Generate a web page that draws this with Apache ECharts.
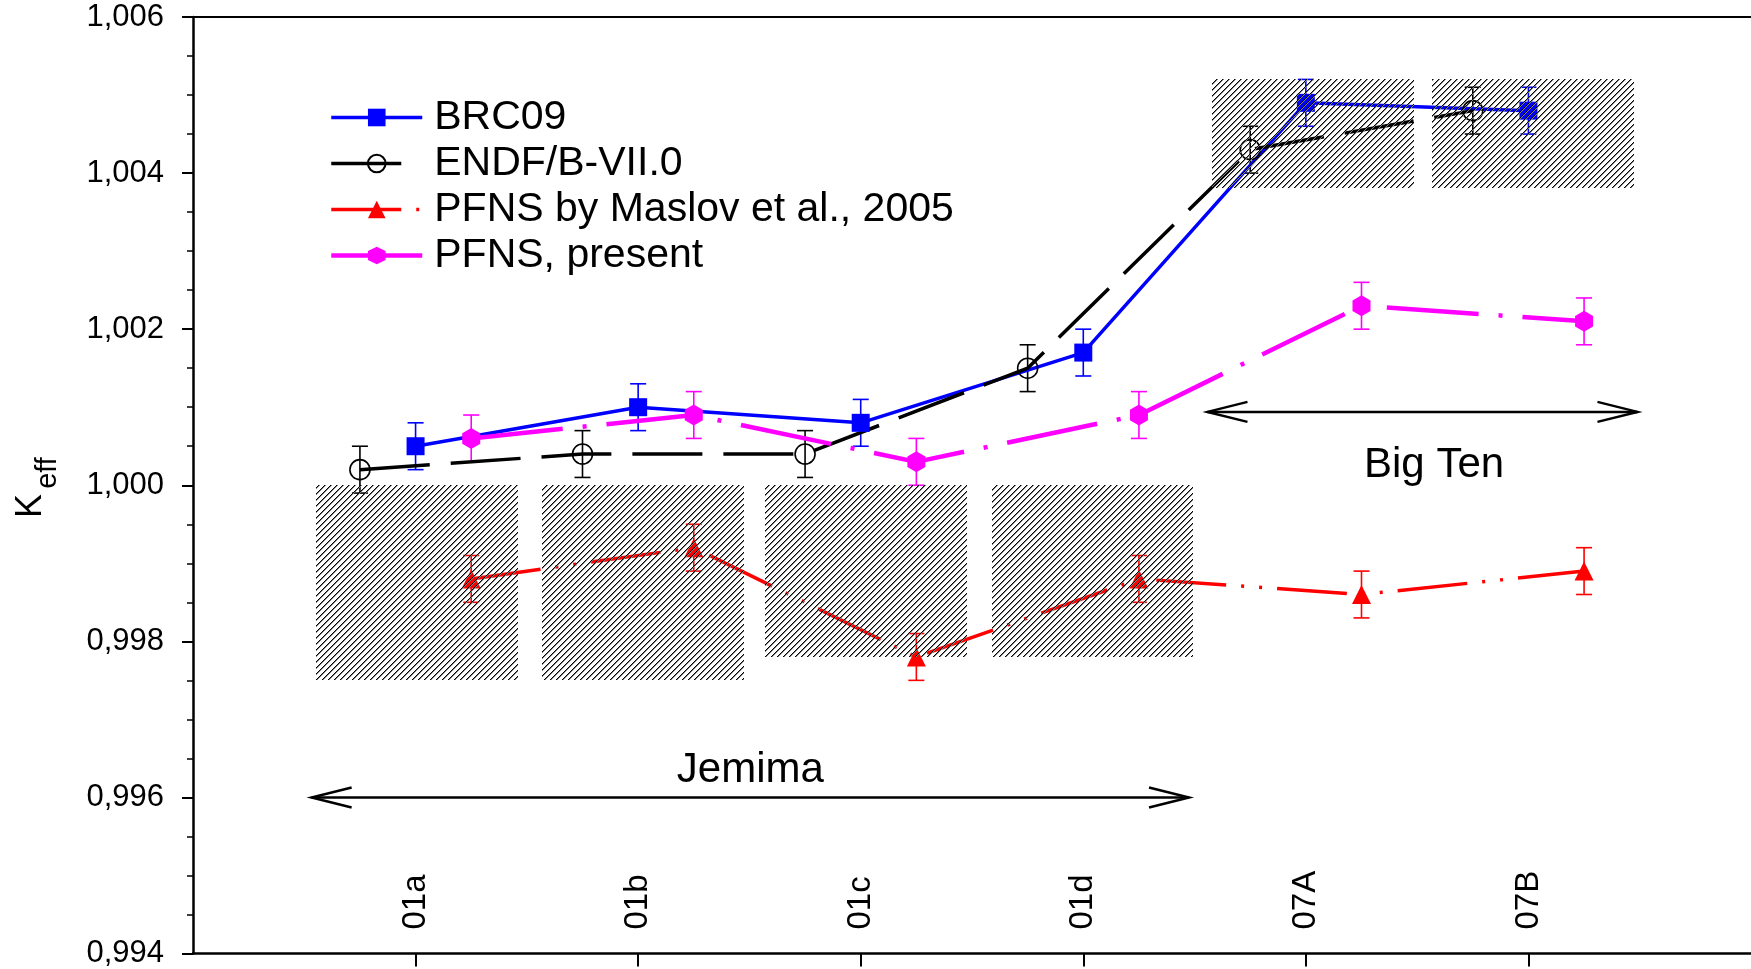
<!DOCTYPE html>
<html>
<head>
<meta charset="utf-8">
<script src="https://cdn.jsdelivr.net/npm/echarts@6/dist/echarts.min.js"></script>
<style>
  html, body { margin: 0; padding: 0; background: #fff; }
  #chart { width: 1751px; height: 969px; }
</style>
</head>
<body>
<div id="chart"></div>
<script>
// Benchmark configurations (Jemima and Big Ten assemblies)
const categories = ['01a', '01b', '01c', '01d', '07A', '07B'];

// k_eff results per evaluation
const brc09   = [1.0005, 1.0010, 1.0008, 1.0017, 1.0049, 1.0048];
const endf    = [1.0002, 1.0004, 1.0004, 1.0015, 1.0043, 1.0048];
const maslov  = [0.9988, 0.9992, 0.9978, 0.9988, 0.9986, 0.9989];
const present = [1.0006, 1.0009, 1.0003, 1.0009, 1.0023, 1.0021];

// statistical uncertainties
const brc09Err   = [0.0003, 0.0003, 0.0003, 0.0003, 0.0003, 0.0003];
const endfErr    = [0.0003, 0.0003, 0.0003, 0.0003, 0.0003, 0.0003];
const maslovErr  = [0.0003, 0.0003, 0.0003, 0.0003, 0.0003, 0.0003];
const presentErr = [0.0003, 0.0003, 0.0003, 0.0003, 0.0003, 0.0003];

// horizontal shift of each evaluation around its benchmark
const shiftBrc09 = 0, shiftEndf = -0.25, shiftMaslov = 0.25, shiftPresent = 0.25;

// experimental uncertainty bands (hatched)
const bandX0 = [0.553, 1.567, 2.570, 3.588, 4.579, 5.567];
const bandX1 = [1.459, 2.473, 3.479, 4.493, 5.486, 6.474];
const bandY0 = [0.9975, 0.9975, 0.9978, 0.9978, 1.0038, 1.0038];
const bandY1 = [1.0000, 1.0000, 1.0000, 1.0000, 1.0052, 1.0052];

// group arrows and their captions
const arrowX0 = [0.533, 4.558];
const arrowX1 = [4.475, 6.49];
const arrowY  = [0.996, 1.00094];
const groupNames = ['Jemima', 'Big Ten'];
const groupNameX = [2.504, 5.576];
const groupNameY = [0.99635, 1.00025];

const yTicks = [0.994, 0.996, 0.998, 1.000, 1.002, 1.004, 1.006];

const FONT = '"Liberation Sans", Arial, Helvetica, sans-serif';
const HEXAGON = 'path://M0,-10 L8.66,-5 L8.66,5 L0,10 L-8.66,5 L-8.66,-5 Z';

// 45° hatching tile: one dark pixel plus a softer neighbour per row
function hatchCanvas() {
  const n = 6;
  const c = document.createElement('canvas');
  c.width = n; c.height = n;
  const ctx = c.getContext('2d');
  for (let i = 0; i < n; i++) {
    ctx.fillStyle = '#000';
    ctx.fillRect(i, n - 1 - i, 1, 1);
    ctx.fillStyle = '#808080';
    ctx.fillRect((i + 1) % n, n - 1 - i, 1, 1);
  }
  return c;
}

function points(values, shift) {
  return values.map((v, i) => [i + 1 + shift, v]);
}

function lineSeries(name, values, shift, color, width, dash, symbol, size, itemStyle) {
  return {
    name: name,
    type: 'line',
    data: points(values, shift),
    symbol: symbol,
    symbolSize: size,
    showAllSymbol: true,
    lineStyle: { color: color, width: width, type: dash },
    itemStyle: itemStyle || { color: color },
    emphasis: { disabled: true },
    z: 3
  };
}

function errorSeries(values, errs, shift, color) {
  return {
    type: 'custom',
    silent: true,
    z: 2,
    data: values.map((v, i) => [i + 1 + shift, v, errs[i]]),
    renderItem: function (params, api) {
      const x = api.value(0), y = api.value(1), e = api.value(2);
      const hi = api.coord([x, y + e]);
      const lo = api.coord([x, y - e]);
      const w = 8;
      const st = { stroke: color, lineWidth: 1.6 };
      return {
        type: 'group',
        children: [
          { type: 'line', shape: { x1: hi[0], y1: hi[1], x2: lo[0], y2: lo[1] }, style: st },
          { type: 'line', shape: { x1: hi[0] - w, y1: hi[1], x2: hi[0] + w, y2: hi[1] }, style: st },
          { type: 'line', shape: { x1: lo[0] - w, y1: lo[1], x2: lo[0] + w, y2: lo[1] }, style: st }
        ]
      };
    }
  };
}

const hatch = { image: hatchCanvas(), repeat: 'repeat' };

const bandSeries = {
  type: 'custom',
  silent: true,
  z: 5,
  data: bandX0.map((x0, i) => [x0, bandX1[i], bandY0[i], bandY1[i]]),
  renderItem: function (params, api) {
    const a = api.coord([api.value(0), api.value(3)]);
    const b = api.coord([api.value(1), api.value(2)]);
    return {
      type: 'rect',
      shape: { x: Math.round(a[0]), y: Math.round(a[1]), width: Math.round(b[0] - a[0]), height: Math.round(b[1] - a[1]) },
      style: { fill: hatch }
    };
  }
};

const arrowSeries = {
  type: 'custom',
  silent: true,
  z: 6,
  data: arrowX0.map((x0, i) => [x0, arrowX1[i], arrowY[i]]),
  renderItem: function (params, api) {
    const l = api.coord([api.value(0), api.value(2)]);
    const r = api.coord([api.value(1), api.value(2)]);
    const hl = 40, hw = 10;
    const st = { stroke: '#000', lineWidth: 2.5, fill: 'none' };
    return {
      type: 'group',
      children: [
        { type: 'line', shape: { x1: l[0], y1: l[1], x2: r[0], y2: r[1] }, style: st },
        { type: 'polyline', shape: { points: [[l[0] + hl, l[1] - hw], [l[0], l[1]], [l[0] + hl, l[1] + hw]] }, style: st },
        { type: 'polyline', shape: { points: [[r[0] - hl, r[1] - hw], [r[0], r[1]], [r[0] - hl, r[1] + hw]] }, style: st }
      ]
    };
  }
};

const captionSeries = {
  type: 'custom',
  silent: true,
  z: 6,
  data: groupNameX.map((x, i) => [x, groupNameY[i]]),
  renderItem: function (params, api) {
    const p = api.coord([api.value(0), api.value(1)]);
    return {
      type: 'text',
      x: p[0], y: p[1],
      style: {
        text: groupNames[params.dataIndex],
        font: '42px ' + FONT,
        fill: '#000',
        align: 'center',
        verticalAlign: 'middle'
      }
    };
  }
};

const chart = echarts.init(document.getElementById('chart'), null, { renderer: 'canvas' });

chart.setOption({
  animation: false,
  backgroundColor: '#fff',
  grid: { left: 193, top: 17, bottom: 15, right: -10, containLabel: false },
  legend: {
    orient: 'vertical',
    left: 329,
    top: 97,
    padding: 0,
    itemWidth: 91,
    itemHeight: 22,
    itemGap: 5,
    selectedMode: false,
    lineStyle: { width: 'inherit' },
    textStyle: { fontSize: 41, color: '#000', fontFamily: FONT, padding: [0, 0, 0, 7] },
    data: ['BRC09', 'ENDF/B-VII.0', 'PFNS by Maslov et al., 2005', 'PFNS, present']
  },
  xAxis: [
    {
      type: 'value',
      position: 'bottom',
      min: 0, max: 7, interval: 1,
      axisLine: { show: true, onZero: false, lineStyle: { color: '#000', width: 2.5 } },
      axisTick: { show: true, length: 13, inside: false, customValues: [1, 2, 3, 4, 5, 6], lineStyle: { color: '#000', width: 2 } },
      axisLabel: {
        inside: true, rotate: 90, margin: 24,
        customValues: [1, 2, 3, 4, 5, 6],
        fontSize: 33, color: '#000', fontFamily: FONT,
        formatter: v => categories[Math.round(v) - 1] || ''
      },
      splitLine: { show: false }
    },
    {
      type: 'value',
      position: 'top',
      min: 0, max: 7, interval: 1,
      axisLine: { show: true, onZero: false, lineStyle: { color: '#000', width: 2 } },
      axisTick: { show: false },
      axisLabel: { show: false },
      splitLine: { show: false }
    }
  ],
  yAxis: {
    type: 'value',
    min: yTicks[0], max: yTicks[yTicks.length - 1], interval: 0.002,
    axisLine: { show: true, onZero: false, lineStyle: { color: '#000', width: 2.5 } },
    axisTick: { show: true, length: 11, lineStyle: { color: '#000', width: 2 } },
    minorTick: { show: true, splitNumber: 4, length: 6, lineStyle: { color: '#000', width: 1.5 } },
    axisLabel: {
      margin: 29, fontSize: 31, color: '#000', fontFamily: FONT,
      formatter: v => v.toFixed(3).replace('.', ',')
    },
    splitLine: { show: false },
    minorSplitLine: { show: false }
  },
  graphic: [
    {
      type: 'text', x: 31, y: 506, rotation: Math.PI / 2,
      style: { text: 'K', font: '36px ' + FONT, fill: '#000', align: 'center', verticalAlign: 'middle' }
    },
    {
      type: 'text', x: 48, y: 473, rotation: Math.PI / 2,
      style: { text: 'eff', font: '29px ' + FONT, fill: '#000', align: 'center', verticalAlign: 'middle' }
    }
  ],
  series: [
    errorSeries(brc09, brc09Err, shiftBrc09, '#0000ff'),
    errorSeries(endf, endfErr, shiftEndf, '#000000'),
    errorSeries(maslov, maslovErr, shiftMaslov, '#ff0000'),
    errorSeries(present, presentErr, shiftPresent, '#ff00ff'),
    lineSeries('BRC09', brc09, shiftBrc09, '#0000ff', 3.5, 'solid', 'rect', 18),
    lineSeries('ENDF/B-VII.0', endf, shiftEndf, '#000000', 3.5, [70, 21], 'circle', 20,
      { color: 'rgba(255,255,255,0)', borderColor: '#000', borderWidth: 1.6 }),
    lineSeries('PFNS by Maslov et al., 2005', maslov, shiftMaslov, '#ff0000', 3.5, [70, 15, 3, 15, 3, 15], 'triangle', 19),
    lineSeries('PFNS, present', present, shiftPresent, '#ff00ff', 4.5, [92, 20, 4, 20], HEXAGON, [18, 21]),
    bandSeries,
    arrowSeries,
    captionSeries
  ]
});
</script>
</body>
</html>
